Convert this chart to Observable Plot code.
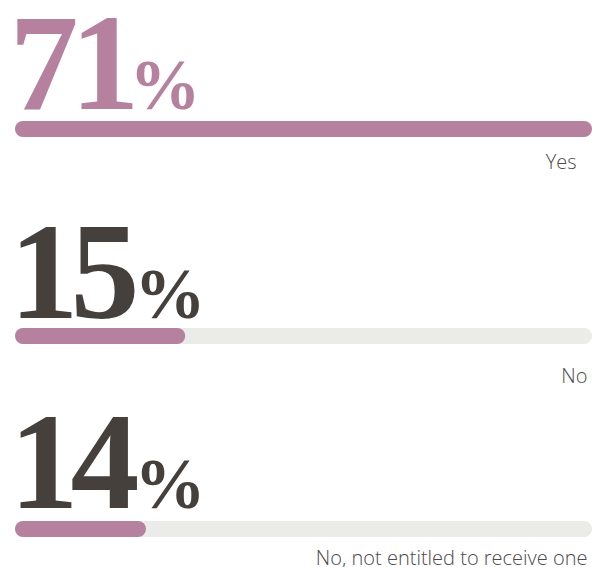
<!DOCTYPE html>
<html><head><meta charset="utf-8">
<script src="https://cdn.jsdelivr.net/npm/d3@7"></script>
<script src="https://cdn.jsdelivr.net/npm/@observablehq/plot@0.6"></script>
<style>
body{margin:0;background:#fff}
#chart{width:592px}
#chart svg{display:block;overflow:visible}
#chart g[font-size="138"] text{letter-spacing:-8px}
</style>
</head><body><div id="chart"></div>
<script>
const categories = ["Yes", "No", "No, not entitled to receive one"];
const percentages = [71, 15, 14];
// bar fill as share of the track, as drawn in the picture
const barLengths = [100, 29.5, 22.7];
const numberColors = ["#b5819f", "#45403c", "#45403c"];

const PINK = "#b5819f", TRACK = "#ebebe9", LABEL = "#4d4a48";
const rowLayout = [
  {height: 190, barTop: 121, barBottom: 137, numDy: -21, labelDy: 39, labelDx: -16, pctDx: 114},
  {height: 205, barTop: 138, barBottom: 154, numDy: -19, labelDy: 46, labelDx: -5, pctDx: 119},
  {height: 172, barTop: 126, barBottom: 142, numDy: -22, labelDy: 35, labelDx: -5, pctDx: 119}
];

const chart = document.getElementById("chart");
categories.forEach((cat, i) => {
  const L = rowLayout[i];
  const d = [{cat, pct: percentages[i], len: barLengths[i]}];
  const p = Plot.plot({
    width: 592, height: L.height,
    marginLeft: 15, marginRight: 0, marginTop: 0, marginBottom: 0,
    x: {domain: [0, 100], axis: null},
    y: {domain: [cat], range: [L.barTop, L.barBottom], padding: 0, axis: null},
    marks: [
      Plot.barX(d, {x1: 0, x2: 100, y: "cat", fill: TRACK, rx: 8}),
      Plot.barX(d, {x1: 0, x2: "len", y: "cat", fill: PINK, rx: 8}),
      Plot.text(d, {x: 0, y: "cat", text: d => String(d.pct), textAnchor: "start", lineAnchor: "bottom",
        dx: -6, dy: L.numDy, fill: numberColors[i], fontFamily: "Liberation Serif", fontWeight: "bold",
        fontSize: 138}),
      Plot.text(d, {x: 0, y: "cat", text: () => "%", textAnchor: "start", lineAnchor: "bottom",
        dx: L.pctDx, dy: L.numDy, fill: numberColors[i], fontFamily: "Liberation Serif", fontWeight: "bold",
        fontSize: 71}),
      Plot.text(d, {x: 100, y: "cat", text: "cat", textAnchor: "end", lineAnchor: "bottom",
        dx: L.labelDx, dy: L.labelDy, fill: LABEL, fontFamily: "Open Sans", fontWeight: 300, fontSize: 20})
    ]
  });
  chart.appendChild(p);
});
</script>
</body></html>
